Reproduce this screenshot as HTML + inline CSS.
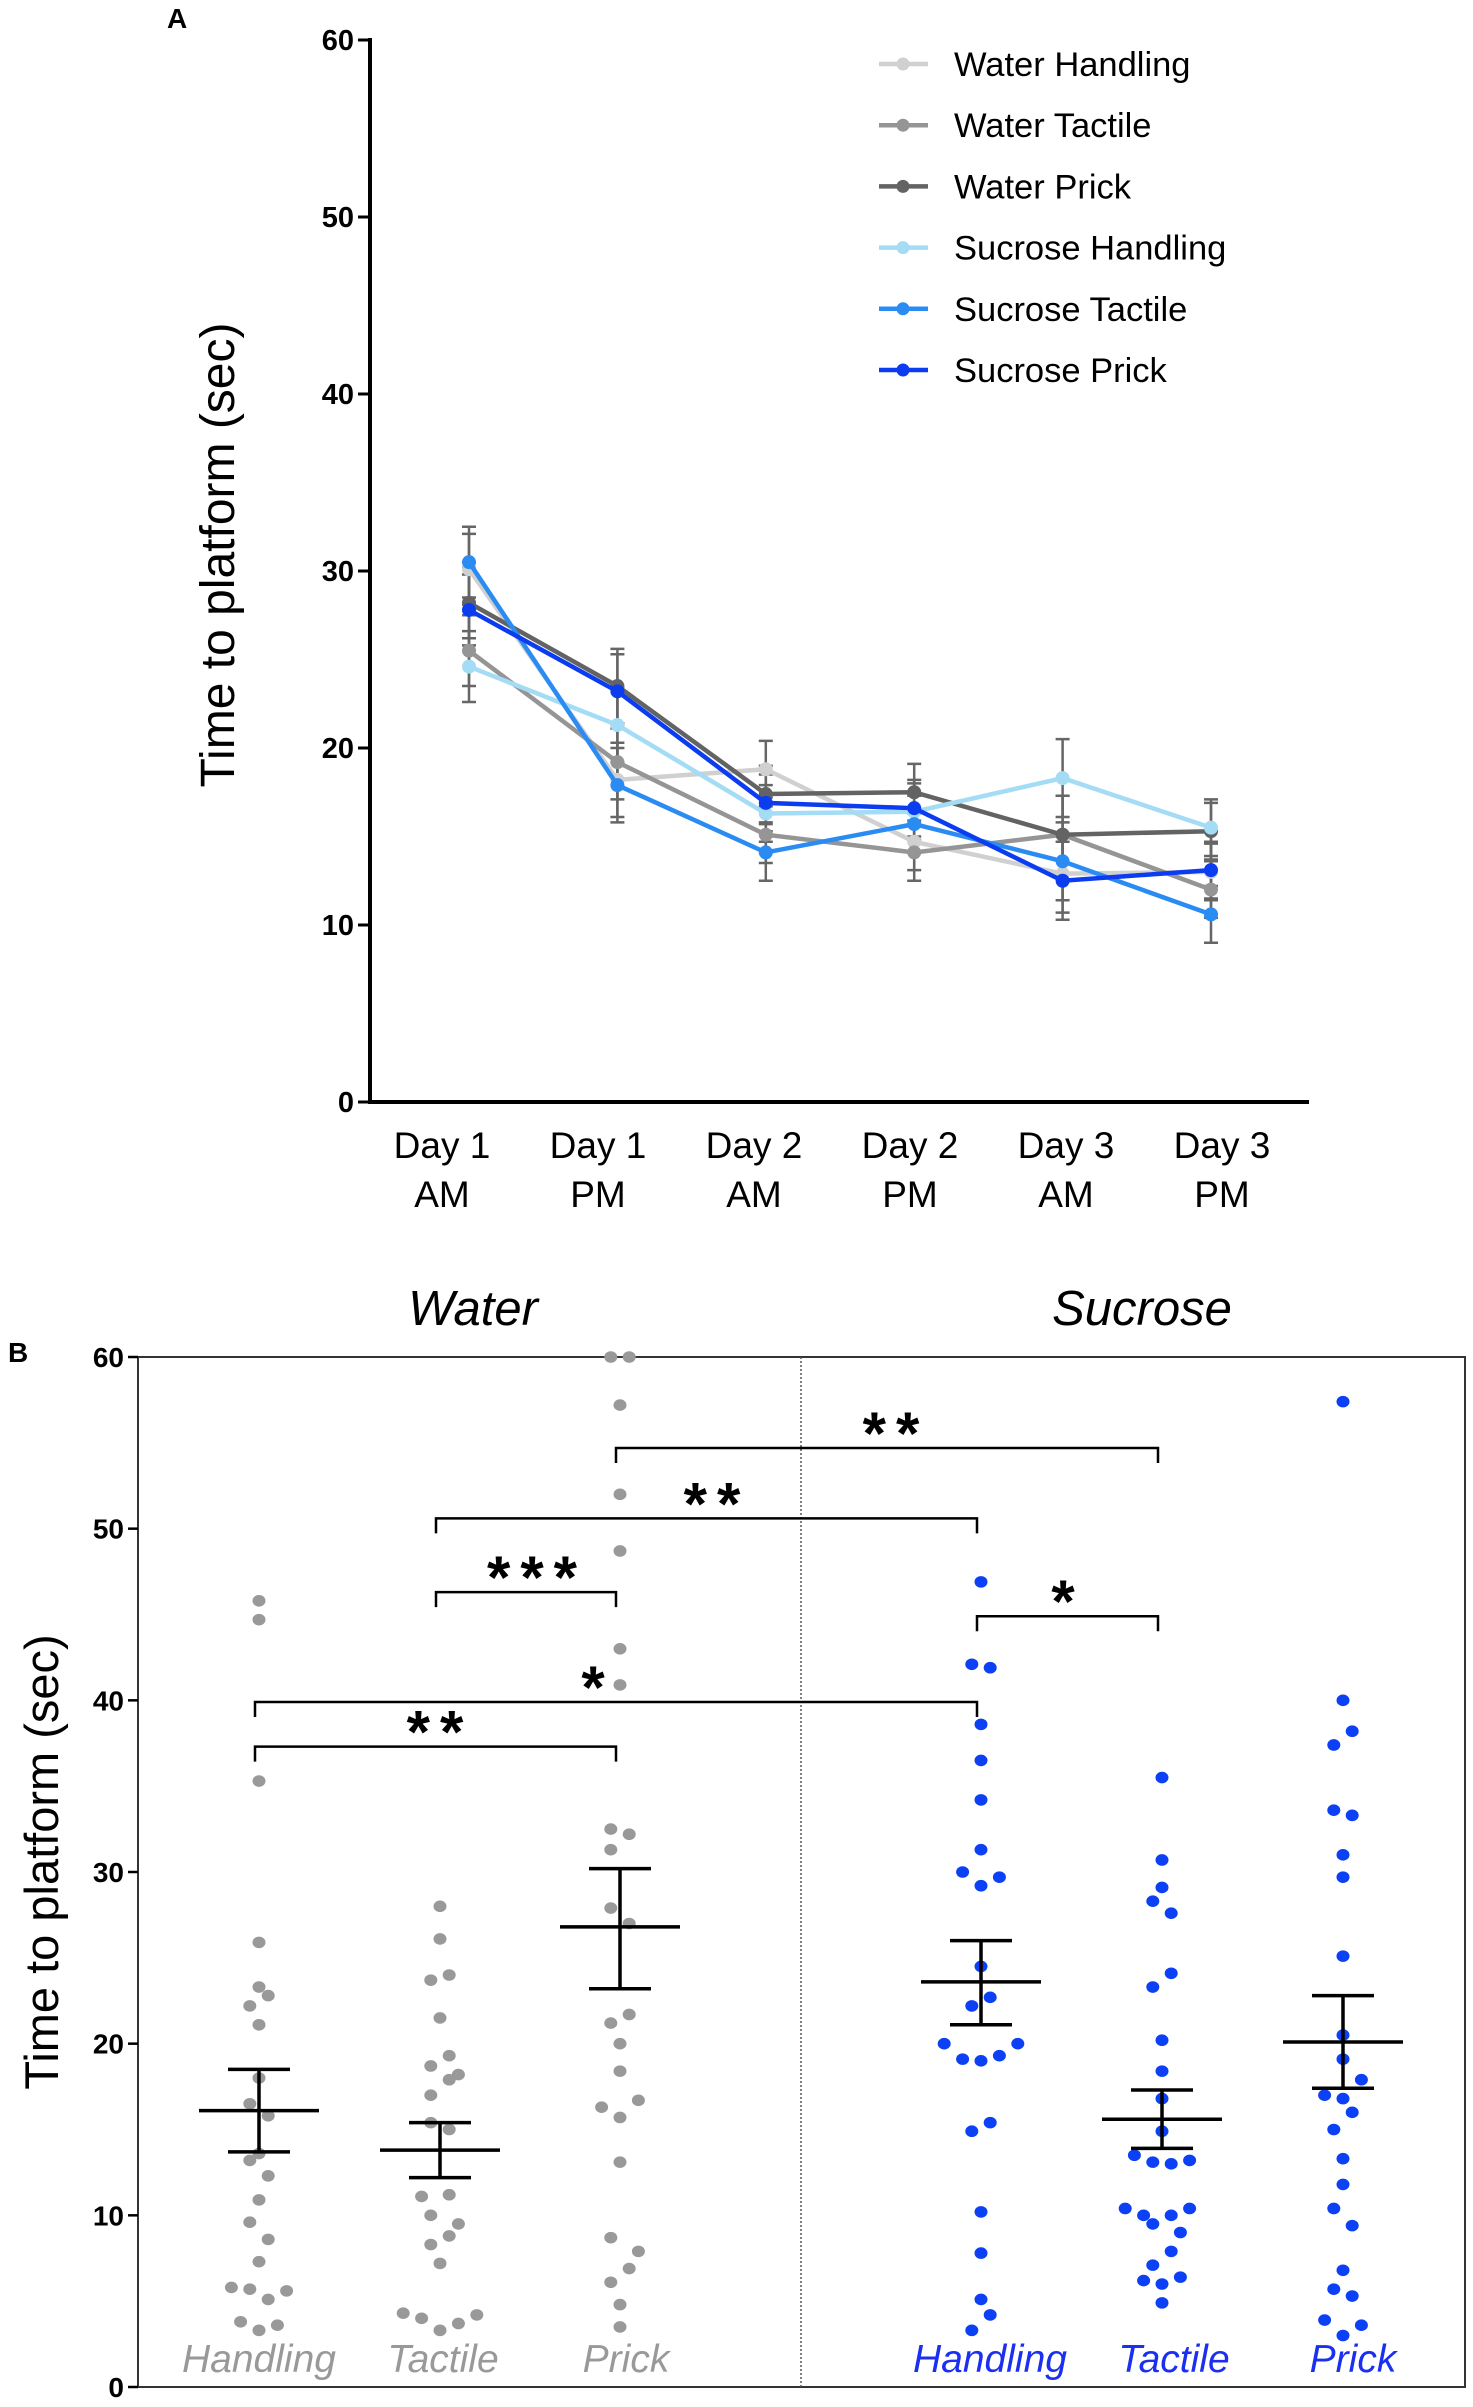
<!DOCTYPE html>
<html><head><meta charset="utf-8"><style>
html,body{margin:0;padding:0;background:#fff;}
svg{display:block;font-family:"Liberation Sans",sans-serif;}
</style></head><body>
<svg id="fig" width="1473" height="2407" viewBox="0 0 1473 2407" xmlns="http://www.w3.org/2000/svg">
<g id="panelA">
<text x="167" y="28" font-size="28" font-weight="bold">A</text>
<text transform="translate(234,555) rotate(-90)" text-anchor="middle" font-size="48">Time to platform (sec)</text>
<g id="axA"></g>
<g id="linesA"></g>
<g id="legendA"></g>
</g>
<g id="panelB">
<text x="8" y="1362" font-size="28" font-weight="bold">B</text>
<text transform="translate(58,1862) rotate(-90)" text-anchor="middle" font-size="47">Time to platform (sec)</text>
<text x="473" y="1325" text-anchor="middle" font-size="49" font-style="italic">Water</text>
<text x="1142" y="1325" text-anchor="middle" font-size="49" font-style="italic">Sucrose</text>
<rect x="138" y="1357" width="1327" height="1030" fill="none" stroke="#333" stroke-width="2"/>
<line x1="801" y1="1357" x2="801" y2="2387" stroke="#555" stroke-width="1.5" stroke-dasharray="2,2"/>
<g id="axB"></g>
<g id="dotsB"></g>
<g id="sigB"></g>
</g>
</svg>
<script>
// ---- Panel A data ----
const daysA = ["Day 1|AM","Day 1|PM","Day 2|AM","Day 2|PM","Day 3|AM","Day 3|PM"];
const seriesNamesA = ["Water Handling","Water Tactile","Water Prick","Sucrose Handling","Sucrose Tactile","Sucrose Prick"];
const waterHandling = [30.1,18.2,18.8,14.7,12.9,13.0];
const waterTactile = [25.5,19.2,15.1,14.1,15.1,12.0];
const waterPrick = [28.2,23.5,17.4,17.5,15.1,15.3];
const sucroseHandling = [24.6,21.3,16.3,16.4,18.3,15.5];
const sucroseTactile = [30.5,17.9,14.1,15.7,13.6,10.6];
const sucrosePrick = [27.8,23.2,16.9,16.6,12.5,13.1];
const semA = [2.0,2.1,1.6,1.6,2.2,1.6];
const ticksA = [0,10,20,30,40,50,60];
// ---- Panel B data ----
const groupsB = ["Handling","Tactile","Prick","Handling","Tactile","Prick"];
const ptsWH = [[45.8,0],[44.7,0],[35.3,0],[25.9,0],[23.3,0],[22.8,1],[22.2,-1],[21.1,0],[18.0,0],[16.5,-1],[15.8,1],[13.6,0],[13.2,-1],[12.3,1],[10.9,0],[9.6,-1],[8.6,1],[7.3,0],[5.8,-3],[5.7,-1],[5.1,1],[5.6,3],[3.8,-2],[3.3,0],[3.6,2]];
const ptsWT = [[28.0,0],[26.1,0],[23.7,-1],[24.0,1],[21.5,0],[19.3,1],[18.7,-1],[18.2,2],[17.9,1],[17.0,-1],[15.4,-1],[15.0,1],[11.1,-2],[11.2,1],[10.0,-1],[9.5,2],[8.8,1],[8.3,-1],[7.2,0],[4.3,-4],[4.0,-2],[4.2,4],[3.7,2],[3.3,0]];
const ptsWP = [[60,-1],[60,1],[57.2,0],[52.0,0],[48.7,0],[43.0,0],[40.9,0],[32.5,-1],[32.2,1],[31.3,-1],[27.9,-1],[27.0,1],[21.7,1],[21.2,-1],[20.0,0],[18.4,0],[16.3,-2],[16.7,2],[15.7,0],[13.1,0],[8.7,-1],[7.9,2],[6.9,1],[6.1,-1],[4.8,0],[3.5,0]];
const ptsSH = [[46.9,0],[42.1,-1],[41.9,1],[38.6,0],[36.5,0],[34.2,0],[31.3,0],[30.0,-2],[29.7,2],[29.2,0],[24.5,0],[22.7,1],[22.2,-1],[20.0,-4],[20.0,4],[19.1,-2],[19.0,0],[19.3,2],[14.9,-1],[15.4,1],[10.2,0],[7.8,0],[5.1,0],[4.2,1],[3.3,-1]];
const ptsST = [[35.5,0],[30.7,0],[29.1,0],[28.3,-1],[27.6,1],[24.1,1],[23.3,-1],[20.2,0],[18.4,0],[16.8,0],[14.9,0],[13.5,-3],[13.1,-1],[13.0,1],[13.2,3],[10.4,-4],[10.0,-2],[9.5,-1],[10.0,1],[10.4,3],[9.0,2],[7.9,1],[7.1,-1],[6.2,-2],[6.0,0],[6.4,2],[4.9,0]];
const ptsSP = [[57.4,0],[40.0,0],[38.2,1],[37.4,-1],[33.6,-1],[33.3,1],[31.0,0],[29.7,0],[25.1,0],[20.5,0],[19.1,0],[17.9,2],[17.0,-2],[16.8,0],[16.0,1],[15.0,-1],[13.3,0],[11.8,0],[10.4,-1],[9.4,1],[6.8,0],[5.7,-1],[5.3,1],[3.9,-2],[3.6,2],[3.0,0]];
const meansB = [16.1,13.8,26.8,23.6,15.6,20.1];
const semLoB = [13.7,12.2,23.2,21.1,13.9,17.4];
const semHiB = [18.5,15.4,30.2,26.0,17.3,22.8];
const ticksB = [0,10,20,30,40,50,60];
const sigFrom = [2,1,1,3,0,0];
const sigTo = [4,3,2,4,3,2];
const sigLevel = [54.7,50.6,46.3,44.9,39.9,37.3];
const sigLabel = ["**","**","***","*","*","**"];

const NS="http://www.w3.org/2000/svg";
function mk(tag,attrs,parent,txt){const e=document.createElementNS(NS,tag);for(const k in attrs)e.setAttribute(k,attrs[k]);if(txt!==undefined)e.textContent=txt;parent.appendChild(e);return e;}

// ---- Panel A ----
const yA=v=>1102-v*(1102-40)/60;
const xPtsA=i=>469+i*148.4;
const xLblA=i=>442+i*156;
const axA=document.getElementById('axA');
let e=mk('line',{x1:370,y1:38,x2:370,y2:1103,stroke:'#000','stroke-width':4},axA);

e=mk('line',{x1:368,y1:1102,x2:1309,y2:1102,stroke:'#000','stroke-width':4},axA);

ticksA.forEach(t=>{
  const tk=mk('line',{x1:358,y1:yA(t),x2:370,y2:yA(t),stroke:'#000','stroke-width':3},axA);
  
  const tl=mk('text',{x:354,y:yA(t)+10,'text-anchor':'end','font-size':29,'font-weight':'bold'},axA,String(t));
  
});
daysA.forEach((d,i)=>{
  const parts=d.split('|');
  const t1=mk('text',{x:xLblA(i),y:1158,'text-anchor':'middle','font-size':37},axA,parts[0]);
  
  const t2=mk('text',{x:xLblA(i),y:1207,'text-anchor':'middle','font-size':37},axA,parts[1]);
  
});
const dataA=[waterHandling,waterTactile,waterPrick,sucroseHandling,sucroseTactile,sucrosePrick];
const colA=['#d0d0d0','#959595','#636363','#a3dcf4','#2a8cf2','#0c3cf0'];
const gLines=document.getElementById('linesA');
dataA.forEach((s,si)=>{s.forEach((v,i)=>{
  const x=xPtsA(i),lo=yA(v-semA[i]),hi=yA(v+semA[i]);
  const g=mk('path',{d:`M${x},${lo}V${hi}M${x-7},${lo}H${x+7}M${x-7},${hi}H${x+7}`,stroke:'#666','stroke-width':2.5,fill:'none'},gLines);
  
});});
dataA.forEach((s,si)=>{
  const p=mk('polyline',{points:s.map((v,i)=>xPtsA(i)+','+yA(v)).join(' '),fill:'none',stroke:colA[si],'stroke-width':4.5},gLines);
  
  s.forEach((v,i)=>{
    const c=mk('circle',{cx:xPtsA(i),cy:yA(v),r:7,fill:colA[si]},gLines);
    
  });
});
const leg=document.getElementById('legendA');
seriesNamesA.forEach((n,i)=>{
  const y=64+i*61.2;
  const l=mk('line',{x1:879,y1:y,x2:928,y2:y,stroke:colA[i],'stroke-width':4.5},leg);
  
  const c=mk('circle',{cx:903,cy:y,r:6.5,fill:colA[i]},leg);
  
  const t=mk('text',{x:954,y:y+12,'font-size':34.5},leg,n);
  
});

// ---- Panel B ----
const yB=v=>2387-v*(2387-1357)/60;
const xGB=[259,440,620,981,1162,1343];
const xLabB=[259,443,626,990,1174,1353];
const axB=document.getElementById('axB');
ticksB.forEach(t=>{
  const tk=mk('line',{x1:128,y1:yB(t),x2:138,y2:yB(t),stroke:'#000','stroke-width':2.5},axB);
  
  const tl=mk('text',{x:124,y:yB(t)+10,'text-anchor':'end','font-size':28,'font-weight':'bold'},axB,String(t));
  
});
groupsB.forEach((g,i)=>{
  const t=mk('text',{x:xLabB[i],y:2372,'text-anchor':'middle','font-size':39,'font-style':'italic',fill:i<3?'#999':'#1a2ff0'},axB,g);
  
});
const ptsB=[ptsWH,ptsWT,ptsWP,ptsSH,ptsST,ptsSP];
const dots=document.getElementById('dotsB');
ptsB.forEach((arr,gi)=>{
  arr.forEach(p=>{
    const c=mk('ellipse',{cx:xGB[gi]+p[1]*9.2,cy:yB(p[0]),rx:6.5,ry:5.8,fill:gi<3?'#999':'#0c40f5'},dots);
    
  });
  const x=xGB[gi];
  const m=mk('path',{d:`M${x-60},${yB(meansB[gi])}H${x+60}M${x},${yB(semLoB[gi])}V${yB(semHiB[gi])}M${x-31},${yB(semLoB[gi])}H${x+31}M${x-31},${yB(semHiB[gi])}H${x+31}`,stroke:'#000','stroke-width':3.5,fill:'none'},dots);
  
});
const sig=document.getElementById('sigB');
const starX=[896,717,537,1068,598,440];
sigFrom.forEach((f,i)=>{
  const x1=xGB[sigFrom[i]]-4,x2=xGB[sigTo[i]]-4,y=yB(sigLevel[i]);
  const b=mk('path',{d:`M${x1},${y+15}V${y}H${x2}V${y+15}`,stroke:'#000','stroke-width':2.5,fill:'none'},sig);
  
  const t=mk('text',{x:starX[i],y:y+6,'text-anchor':'middle','font-size':60,'font-weight':'bold','letter-spacing':10},sig,sigLabel[i]);
  
});
</script>
</body></html>
